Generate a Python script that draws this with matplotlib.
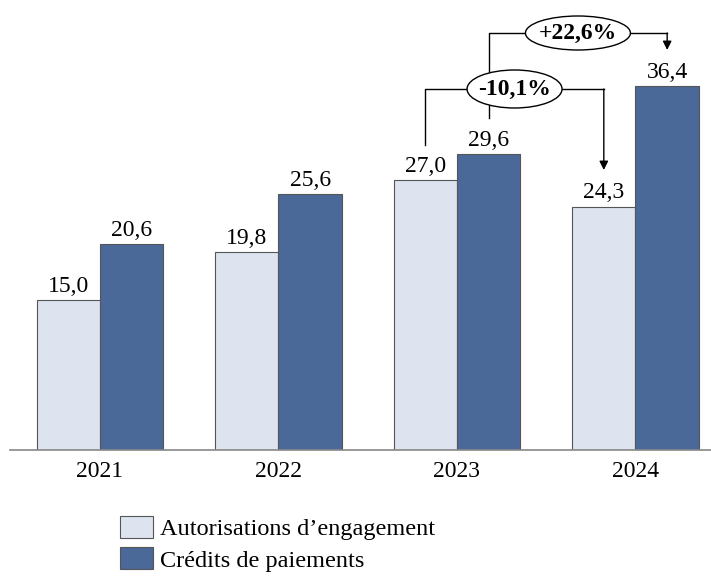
import matplotlib
matplotlib.use("Agg")
import matplotlib.pyplot as plt
from matplotlib.patches import Ellipse
import numpy as np

years = ["2021", "2022", "2023", "2024"]
ae = [15.0, 19.8, 27.0, 24.3]
cp = [20.6, 25.6, 29.6, 36.4]
labels = ["Autorisations d\u2019engagement", "Crédits de paiements"]
evol_ae = "-10,1%"
evol_cp = "+22,6%"

light = "#dde4ef"
dark = "#4a6999"
edge = "#555555"
fs = 17

plt.rcParams['font.family'] = ['Liberation Serif', 'DejaVu Serif']

fig = plt.figure(figsize=(7.11, 5.76), dpi=100)
ax = fig.add_axes([10 / 711, 126 / 576, 701 / 711, 440 / 576])

x = np.arange(len(years))
w = 0.355
ax.bar(x - w / 2, ae, w, color=light, edgecolor=edge, linewidth=0.8, label=labels[0])
ax.bar(x + w / 2, cp, w, color=dark, edgecolor=edge, linewidth=0.8, label=labels[1])

def fmt(v):
    return "{0:.1f}".format(v).replace(".", ",")

for i in range(len(years)):
    ax.text(x[i] - w / 2, ae[i] + 0.35, fmt(ae[i]), ha="center", va="bottom", fontsize=fs)
    ax.text(x[i] + w / 2, cp[i] + 0.35, fmt(cp[i]), ha="center", va="bottom", fontsize=fs)

ax.set_xlim(-0.504, 3.423)
ax.set_ylim(0, 44)
ax.set_xticks(x)
ax.set_xticklabels(years, fontsize=fs)
ax.tick_params(axis="x", length=0, pad=8)
ax.set_yticks([])
for s in ["top", "left", "right"]:
    ax.spines[s].set_visible(False)
ax.spines["bottom"].set_color("#888888")
ax.spines["bottom"].set_linewidth(1.2)

arrow = dict(arrowstyle="-|>", color="black", lw=1, mutation_scale=13, shrinkA=0, shrinkB=0)

# evolution 2023 -> 2024 des AE
xa, xb = x[2] - w / 2, x[3] - w / 2
ya = 36.1
ax.plot([xa, xa, xb], [ae[2] + 3.5, ya, ya], color="black", lw=1)
ax.annotate("", xy=(xb, ae[3] + 3.7), xytext=(xb, ya), arrowprops=arrow)

# evolution 2023 -> 2024 des CP
xc, xd = x[2] + w / 2, x[3] + w / 2
yc = 41.7
ax.plot([xc, xc, xd], [cp[2] + 3.6, yc, yc], color="black", lw=1)
ax.annotate("", xy=(xd, cp[3] + 3.6), xytext=(xd, yc), arrowprops=arrow)

mid_a = (xa + xb) / 2
ax.add_patch(Ellipse((mid_a, ya), 0.532, 3.8, facecolor="white", edgecolor="black", lw=1, zorder=3))
ax.text(mid_a, ya, evol_ae, ha="center", va="center", fontsize=fs, fontweight="bold", zorder=4)

mid_c = (xc + xd) / 2
ax.add_patch(Ellipse((mid_c, yc), 0.588, 3.4, facecolor="white", edgecolor="black", lw=1, zorder=3))
ax.text(mid_c, yc, evol_cp, ha="center", va="center", fontsize=fs, fontweight="bold", zorder=4)

fig.legend(loc="upper left", bbox_to_anchor=(120 / 711, 1 - 516 / 576), frameon=False,
           fontsize=17.5, handlelength=1.35, handleheight=1.0, handletextpad=0.3,
           labelspacing=0.3, borderaxespad=0, borderpad=0)

fig.savefig("out.png", dpi=100)
